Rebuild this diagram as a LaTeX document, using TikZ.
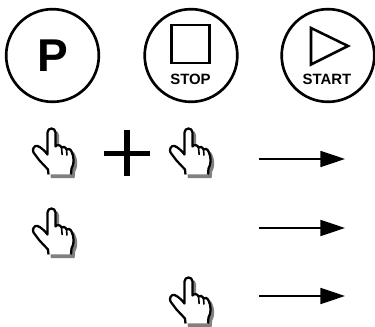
\documentclass[tikz,border=0pt]{standalone}
\usepackage{fontspec}
\setmainfont{Liberation Sans}
\usepackage{tikz}
\usetikzlibrary{arrows.meta}
\definecolor{shadowclr}{RGB}{128,128,128}
% outline of the hand, measured from the fingertip
\def\handoutline{(-3,46) -- (-3.5,41) -- (-12,32) -- (-18,24)
  .. controls (-19.5,21) and (-17.5,16.5) .. (-14,17.5)
  .. controls (-11,18.5) and (-7,22) .. (-4,26) -- (-4,4)
  .. controls (-4,-1.3) and (4,-1.3) .. (4,4) -- (4,18)
  .. controls (5,16) and (9,16) .. (10,19)
  .. controls (11,18) and (14,18) .. (15,21)
  .. controls (16,20) and (19,20) .. (20,23)
  .. controls (21,25) and (22,28) .. (22,32)
  .. controls (22,36) and (21,38) .. (20,40) -- (19.5,46)}
\tikzset{
  hand/.pic={
    \filldraw[shadowclr, line width=1pt, shift={(3,3)}] \handoutline -- cycle;
    \fill[white] \handoutline -- cycle;
    \draw[line width=1.7pt, line join=round] \handoutline;
    \draw[line width=1.2pt] (10,19) -- (10.7,26.5);
    \draw[line width=1.2pt] (15,21) -- (15.5,27);
  },
  btn/.style={draw, circle, line width=2pt, minimum size=69.5pt, inner sep=0pt},
  btntext/.style={font=\fontsize{11.2}{11.2}\selectfont\bfseries, inner sep=0pt},
  flow/.style={-{Triangle[length=18.4pt, width=12pt]}, line width=1.3pt}
}
\begin{document}
\begin{tikzpicture}[x=0.75pt, y=-0.75pt]
  \useasboundingbox (0,0) rectangle (375,327);
  % buttons
  \node[btn, font=\fontsize{34.5}{34.5}\selectfont\bfseries] (pbtn) at (52.5,55.5) {P};
  \node[btn] (stopbtn) at (191,55.5) {};
  \node[btn] (startbtn) at (328,55.5) {};
  \node[draw, line width=1.9pt, minimum size=28.6pt, inner sep=0pt] (stopsq) at (190.5,44) {};
  \node[btntext] (stoplbl) at (190.5,79) {STOP};
  \node[btntext] (startlbl) at (327,79) {START};
  % play triangle
  \draw[line width=1.9pt, line join=miter] (311,28) -- (348,46) -- (311,64.5) -- cycle;
  % plus sign
  \draw[line width=3.8pt] (104,153.5) -- (150,153.5);
  \draw[line width=3.8pt] (127,130) -- (127,176);
  % hands
  \pic (handa) at (51.5,128.5) {hand};
  \pic (handb) at (188.5,128.5) {hand};
  \pic (handc) at (51.5,208.5) {hand};
  \pic (handd) at (188.5,277.5) {hand};
  % arrows
  \coordinate (aone) at (259,159);
  \coordinate (aoneend) at (345,159);
  \coordinate (atwo) at (259,228);
  \coordinate (atwoend) at (345,228);
  \coordinate (athree) at (259,296);
  \coordinate (athreeend) at (345,296);
  \draw[flow] (aone) -- (aoneend);
  \draw[flow] (atwo) -- (atwoend);
  \draw[flow] (athree) -- (athreeend);
\end{tikzpicture}
\end{document}
